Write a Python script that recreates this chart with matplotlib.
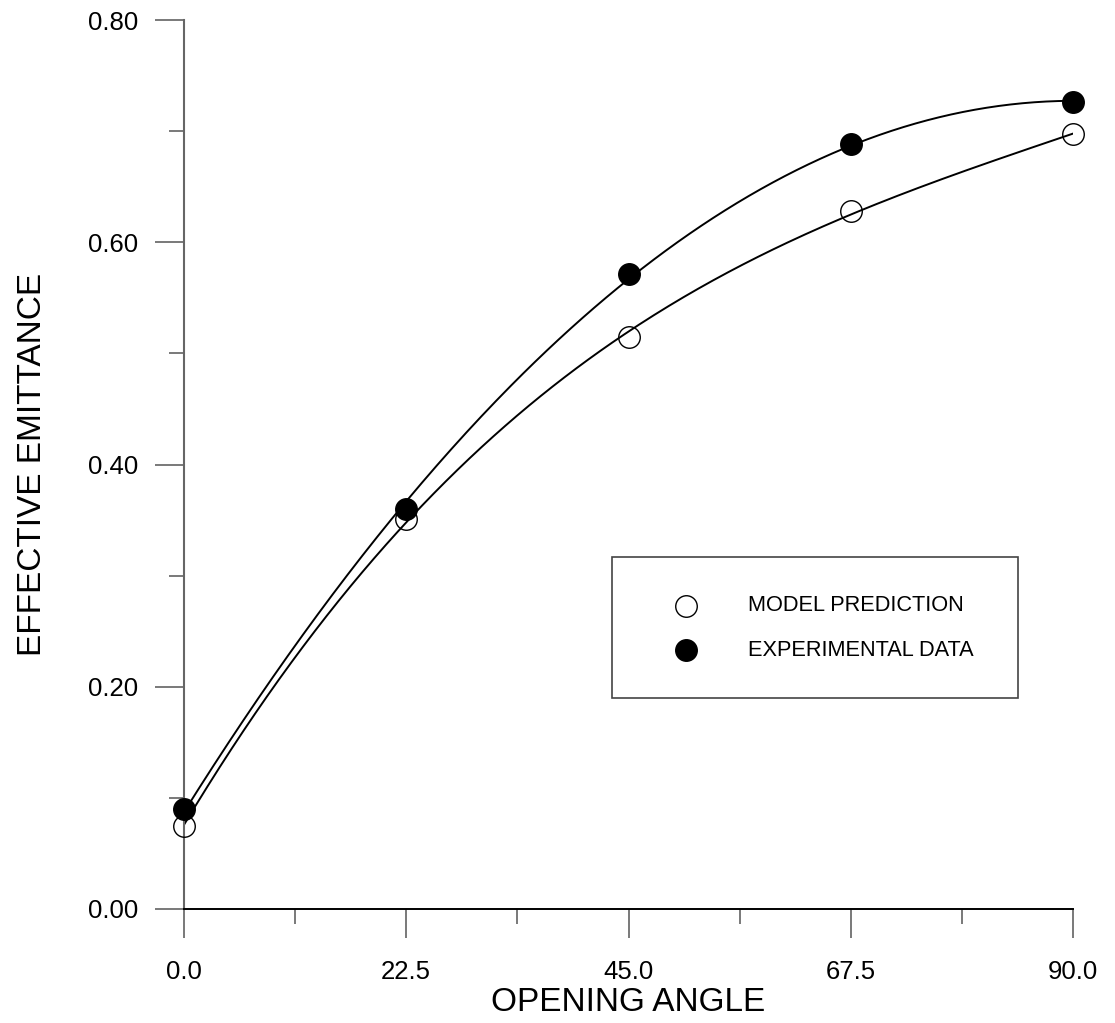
import numpy as np
import matplotlib
matplotlib.use("Agg")
import matplotlib.pyplot as plt
from matplotlib.patches import Rectangle

plt.rcParams['font.family'] = ['Liberation Sans', 'DejaVu Sans']

angle = [0.0, 22.5, 45.0, 67.5, 90.0]
model = [0.075, 0.351, 0.515, 0.628, 0.697]
experiment = [0.090, 0.360, 0.571, 0.688, 0.726]
xticks = [0.0, 22.5, 45.0, 67.5, 90.0]
xticklabels = ["0.0", "22.5", "45.0", "67.5", "90.0"]
yticks = [0.0, 0.2, 0.4, 0.6, 0.8]
yticklabels = ["0.00", "0.20", "0.40", "0.60", "0.80"]

fig = plt.figure(figsize=(11.15, 10.23), dpi=100)
ax = fig.add_axes([184/1115, 1 - 909/1023, 889/1115, 889/1023])

xs = np.linspace(0, 90, 300)
pm = np.polyfit(angle, model, 3)
pe = np.polyfit(angle, experiment, 2)
ax.plot(xs, np.polyval(pm, xs), color='black', lw=1.4, zorder=2)
ax.plot(xs, np.polyval(pe, xs), color='black', lw=1.4, zorder=2)

ms = 15.5
ax.plot(angle, model, 'o', ls='none', mfc='none', mec='black', mew=1.0, ms=ms, zorder=3, clip_on=False)
ax.plot(angle, experiment, 'o', ls='none', mfc='black', mec='black', mew=1.0, ms=ms, zorder=4, clip_on=False)

ax.set_xlim(0, 90)
ax.set_ylim(0, 0.8)
ax.spines['top'].set_visible(False)
ax.spines['right'].set_visible(False)
ax.spines['left'].set_color('#666666')
ax.spines['left'].set_linewidth(1.5)
ax.spines['bottom'].set_linewidth(1.4)

ax.set_xticks(xticks)
ax.set_xticklabels(xticklabels)
ax.set_yticks(yticks)
ax.set_yticklabels(yticklabels)
ax.set_xticks([11.25, 33.75, 56.25, 78.75], minor=True)
ax.set_yticks([0.1, 0.3, 0.5, 0.7], minor=True)
ax.tick_params(axis='both', which='major', direction='out', length=21, width=1.1,
               color='#555555', labelsize=18.5)
ax.tick_params(axis='both', which='minor', direction='out', length=10.5, width=1.1,
               color='#555555')
ax.tick_params(axis='x', which='major', pad=16)
ax.tick_params(axis='y', which='major', pad=12)

ax.set_xlabel("OPENING ANGLE", fontsize=24, labelpad=2)
ax.set_ylabel("EFFECTIVE EMITTANCE", fontsize=24, labelpad=29)

# legend box
ax.add_patch(Rectangle((0.4814, 0.2373), 0.938 - 0.4814, 0.396 - 0.2373,
                       transform=ax.transAxes, fill=False, ec='#444444', lw=1.2, zorder=5))
ax.plot([0.5647], [0.341], 'o', transform=ax.transAxes, mfc='none', mec='black', mew=1.0, ms=ms, zorder=6)
ax.plot([0.5647], [0.2913], 'o', transform=ax.transAxes, mfc='black', mec='black', mew=1.0, ms=ms, zorder=6)
ax.text(0.634, 0.341, "MODEL PREDICTION", transform=ax.transAxes, fontsize=15.7, va='center', ha='left')
ax.text(0.634, 0.2913, "EXPERIMENTAL DATA", transform=ax.transAxes, fontsize=15.7, va='center', ha='left')

fig.savefig("out.png", dpi=100)
